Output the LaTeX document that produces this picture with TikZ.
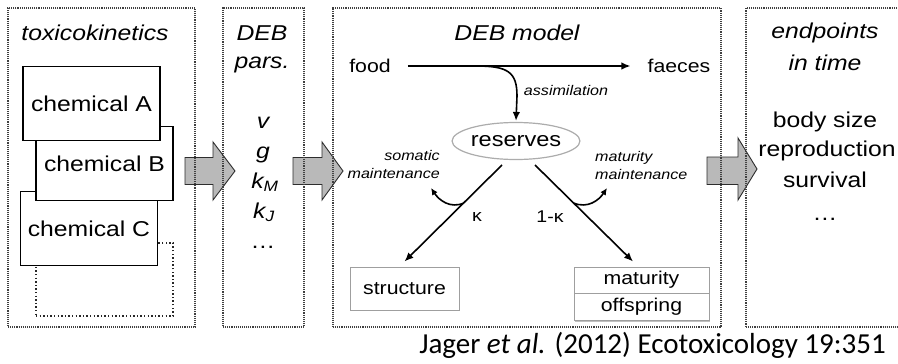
\documentclass[tikz,border=0pt]{standalone}
\usepackage{fontspec}
\setmainfont{Liberation Sans}[FakeStretch=1.15]
\newfontfamily\citefont{Carlito}
\usetikzlibrary{arrows.meta,shapes.geometric,shadows}
\begin{document}
\begin{tikzpicture}[x=1pt,y=-1pt,
  panel/.style={draw=black!75, line width=1.2pt, dash pattern=on 1.1pt off 1pt, inner sep=0, outer sep=0, minimum height=319pt},
  chem/.style={draw=black, fill=white, line width=1.4pt, minimum width=137pt, minimum height=74pt, inner sep=0, font=\fontsize{21.5}{24}\selectfont},
  dotbox/.style={draw=black!85, line width=1.4pt, dash pattern=on 1.4pt off 2.2pt, minimum width=137pt, minimum height=73pt, inner sep=0},
  lbl/.style={font=\fontsize{21.5}{24}\selectfont, inner sep=0},
  lblit/.style={font=\fontsize{21.5}{24}\selectfont\itshape, inner sep=0},
  midtext/.style={font=\fontsize{18.5}{21}\selectfont},
  notetext/.style={font=\fontsize{14}{18}\selectfont\itshape, inner sep=0},
  kappatext/.style={font=\fontsize{17}{20}\selectfont, inner sep=0},
  sbox/.style={draw=gray!75, fill=white, line width=1pt, inner sep=0, midtext,
     drop shadow={shadow xshift=1.3pt, shadow yshift=-1.3pt, fill=gray!70, opacity=0.7}},
  flowarrow/.style={line width=1.6pt, -{Latex[length=9pt,width=7.5pt]}},
  brancharrow/.style={line width=1.6pt, -{Latex[length=7pt,width=6.5pt]}},
  barrow/.style={fill=gray!55, draw=gray!35!black, line width=0.9pt, line join=miter}
]
\useasboundingbox (0,0) rectangle (898,364);
\fill[white] (0,0) rectangle (898,364);

% block arrows (under the panel borders)
\draw[barrow] (185,157.5) -- (213,157.5) -- (213,142) -- (235,171) -- (213,200) -- (213,184.5) -- (185,184.5) -- cycle;
\draw[barrow] (293,157.5) -- (322,157.5) -- (322,142) -- (343,171) -- (322,200) -- (322,184.5) -- (293,184.5) -- cycle;
\draw[barrow] (707,157) -- (738,157) -- (738,138) -- (757,169) -- (738,200) -- (738,184.5) -- (707,184.5) -- cycle;

% panels
\node[panel, minimum width=187pt] (p1) at (101.5,167.5) {};
\node[panel, minimum width=81pt] (p2) at (263.5,167.5) {};
\node[panel, minimum width=388pt] (p3) at (527,167.5) {};
\node[panel, minimum width=170pt] (p4) at (831,167.5) {};

% toxicokinetics
\node[lblit] (tk) at (95,33) {toxicokinetics};
\node[dotbox] (chD) at (104.5,279.5) {};
\node[chem] (chC) at (89,228.5) {chemical C};
\node[chem] (chB) at (104.5,163.5) {chemical B};
\node[chem] (chA) at (91.5,103.5) {chemical A};

% DEB pars
\node[lblit] (debl) at (262,33) {DEB};
\node[lblit] (parsl) at (262,65) {pars.};
\node[lblit, anchor=base] (pv) at (263,128) {v};
\node[lblit, anchor=base] (pg) at (263,158) {g};
\node[lblit, anchor=base] (pkm) at (265,188) {k\textsubscript{\itshape M}};
\node[lblit, anchor=base] (pkj) at (264,218) {k\textsubscript{\itshape J}};
\node[lbl, anchor=base] (pdots) at (263,248) {\textellipsis};

% DEB model
\node[lblit] (debm) at (517,33) {DEB model};
\node[midtext, inner sep=0] (food) at (370,66) {food};
\node[midtext, inner sep=0] (faeces) at (679,66) {faeces};
\draw[flowarrow, shorten <=17pt, shorten >=17pt] (food.east) -- (faeces.west);
\node[ellipse, draw=gray!65, line width=1.2pt, minimum width=119pt, minimum height=37pt, inner sep=0, font=\fontsize{20.5}{23}\selectfont] (res) at (516,141) {reserves};
\coordinate (asm) at (476,66);
\draw[flowarrow] (asm) .. controls (508,66) and (517,72) .. (517,96) -- ([yshift=1pt]res.north);
\node[notetext] (asml) at (566,90) {assimilation};

\node[sbox, minimum width=109pt, minimum height=43pt] (st) at (404.5,288.5) {structure};
\node[sbox, minimum width=135pt, minimum height=27pt] (offs) at (641.5,307) {offspring};
\node[sbox, minimum width=135pt, minimum height=26pt] (mat) at (641.5,280) {maturity};

\coordinate (ks) at (502,165);
\coordinate (ks2) at (535,165);
\draw[flowarrow] (ks) -- ([yshift=5pt]st.north);
\draw[flowarrow] (ks2) -- ([xshift=-8.5pt,yshift=5pt]mat.north);

\coordinate (som) at (464,203);
\coordinate (matm) at (573.5,203);
\draw[brancharrow] (som) .. controls (450,209) and (439,200) .. (431,188);
\draw[brancharrow] (matm) .. controls (588,209) and (599,200) .. (607,188);
\node[notetext, anchor=east, align=right] (soml) at (440,164) {somatic\\maintenance};
\node[notetext, anchor=west, align=left] (matl) at (595,165) {maturity\\maintenance};
\node[kappatext] (k1) at (477,217) {κ};
\node[kappatext] (k2) at (550,217) {1-κ};

% endpoints
\node[lblit] (ep1) at (825,33) {endpoints};
\node[lblit] (ep2) at (825,63) {in time};
\node[lbl] (e1) at (825,122) {body size};
\node[lbl] (e2) at (827,151) {reproduction};
\node[lbl] (e3) at (825,180) {survival};
\node[lbl, anchor=base] (e4) at (825,220) {\textellipsis};

% citation
\node[font=\citefont\fontsize{29}{32}\selectfont, anchor=base east, inner sep=0] (cite) at (886,353) {Jager \textit{et al.} (2012) Ecotoxicology 19:351};
\end{tikzpicture}
\end{document}
